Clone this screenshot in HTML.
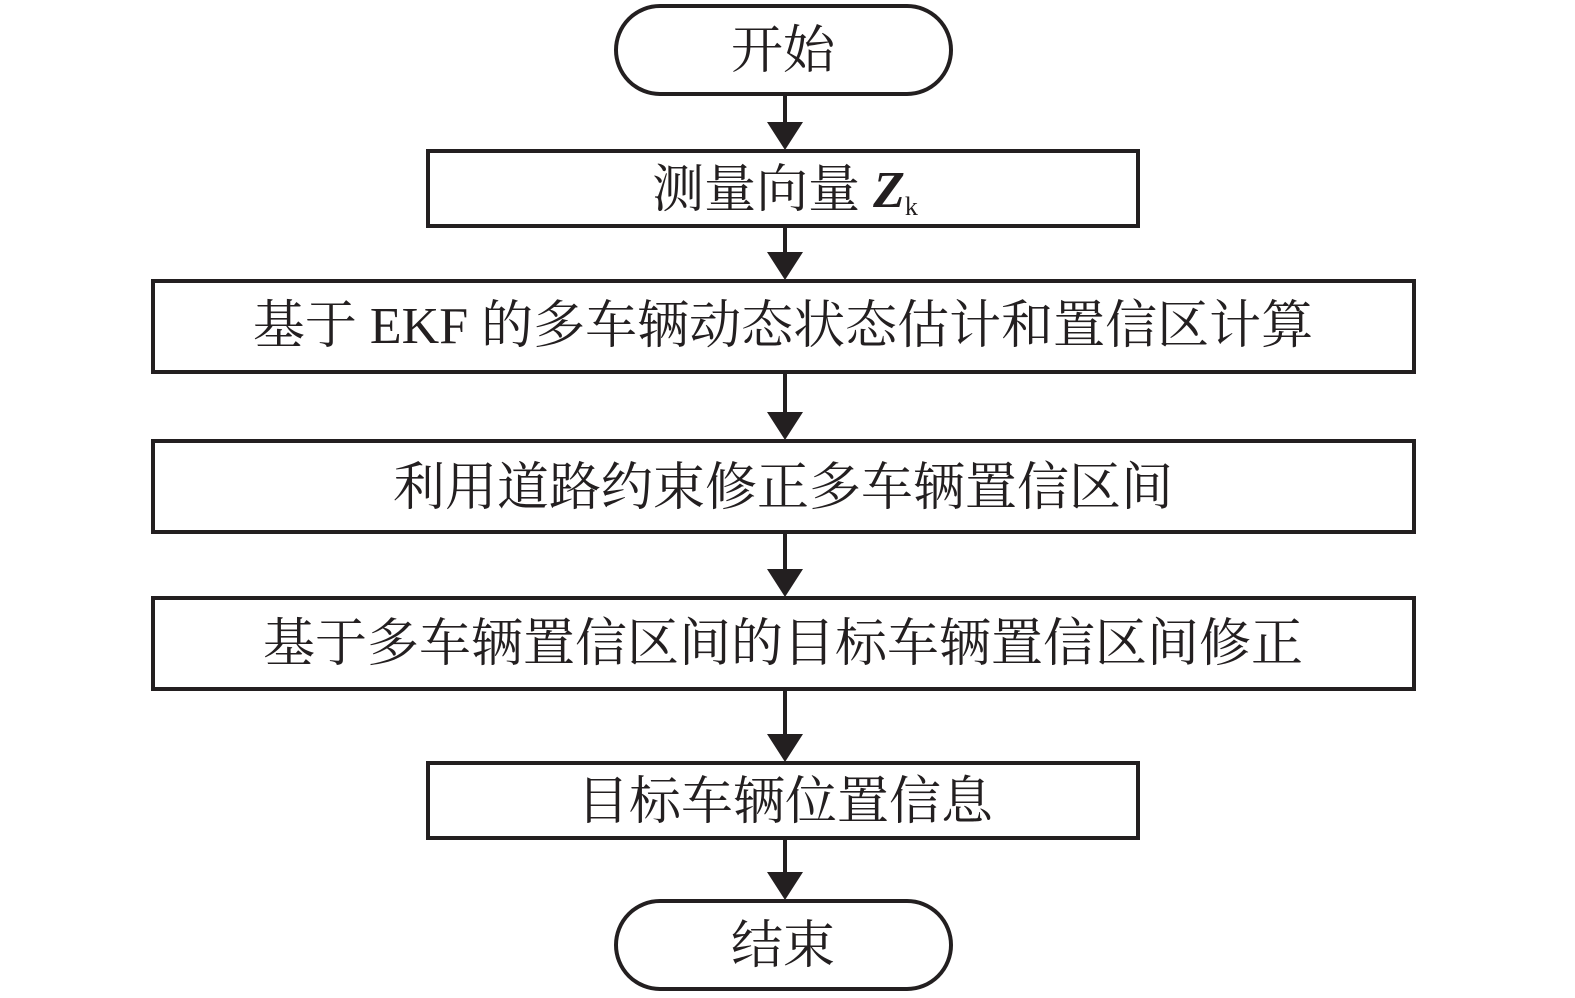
<!DOCTYPE html>
<html><head><meta charset="utf-8"><style>
html,body{margin:0;padding:0;background:#fff;}
svg{display:block}
text{font-family:"Liberation Serif","Noto Serif CJK SC",serif;font-size:52px;fill:#231f20;text-anchor:middle;}
</style></head><body>
<svg width="1575" height="998" viewBox="0 0 1575 998" xmlns="http://www.w3.org/2000/svg">
<g fill="none" stroke="#231f20" stroke-width="4">
<rect x="616" y="6" width="335" height="88" rx="44"/>
<rect x="428" y="151" width="710" height="75"/>
<rect x="153" y="281" width="1261" height="91"/>
<rect x="153" y="441" width="1261" height="91"/>
<rect x="153" y="598" width="1261" height="91"/>
<rect x="428" y="763" width="710" height="75"/>
<rect x="616" y="901" width="335" height="88" rx="44"/>
<line x1="785" y1="94" x2="785" y2="125"/>
<line x1="785" y1="226" x2="785" y2="255"/>
<line x1="785" y1="372" x2="785" y2="415"/>
<line x1="785" y1="532" x2="785" y2="572"/>
<line x1="785" y1="689" x2="785" y2="737"/>
<line x1="785" y1="838" x2="785" y2="875"/>
</g>
<g fill="#231f20">
<polygon points="767,122 803,122 785,150"/>
<polygon points="767,252 803,252 785,280"/>
<polygon points="767,412 803,412 785,440"/>
<polygon points="767,569 803,569 785,597"/>
<polygon points="767,734 803,734 785,762"/>
<polygon points="767,872 803,872 785,900"/>
</g>
<text x="783" y="68">开始</text>
<text x="785" y="207">测量向量 <tspan font-weight="bold" font-style="italic">Z</tspan><tspan font-size="26" dy="8">k</tspan></text>
<text x="783" y="343">基于 EKF 的多车辆动态状态估计和置信区计算</text>
<text x="783" y="505">利用道路约束修正多车辆置信区间</text>
<text x="783" y="661">基于多车辆置信区间的目标车辆置信区间修正</text>
<text x="785" y="819">目标车辆位置信息</text>
<text x="783" y="963">结束</text>
</svg>
</body></html>
